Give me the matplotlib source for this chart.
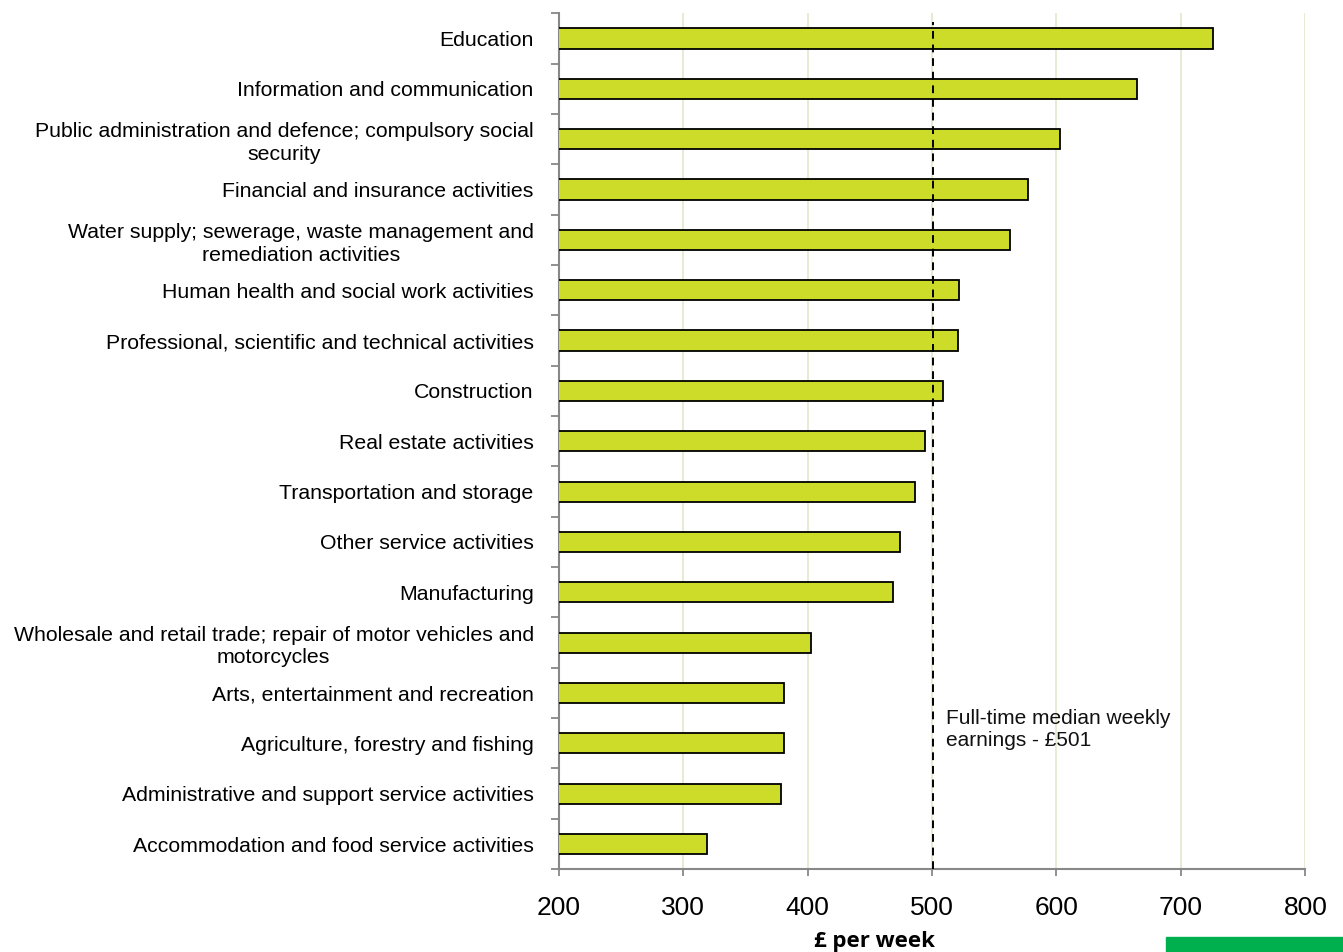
import matplotlib.pyplot as plt
import matplotlib.patches as patches
import numpy as np

plt.rcParams['font.family'] = ['Liberation Sans', 'DejaVu Sans']

# industries, top to bottom as in the chart
industries = [
    'Education',
    'Information and communication',
    'Public administration and defence; compulsory social\nsecurity',
    'Financial and insurance activities',
    'Water supply; sewerage, waste management and\nremediation activities',
    'Human health and social work activities',
    'Professional, scientific and technical activities',
    'Construction',
    'Real estate activities',
    'Transportation and storage',
    'Other service activities',
    'Manufacturing',
    'Wholesale and retail trade; repair of motor vehicles and\nmotorcycles',
    'Arts, entertainment and recreation',
    'Agriculture, forestry and fishing',
    'Administrative and support service activities',
    'Accommodation and food service activities',
]
weekly_pay = [726, 665, 603, 577, 563, 522, 521, 509, 494, 486, 474, 469,
              403, 381, 381, 379, 319]
median_pay = 501
x_ticks = [200, 300, 400, 500, 600, 700, 800]

fig = plt.figure(figsize=(13.43, 9.52), dpi=100)
ax = fig.add_axes([0.416, 0.087, 0.556, 0.899])

y = np.arange(len(industries))
ax.barh(y, weekly_pay, height=0.4, left=0, color='#cddc29',
        edgecolor='black', linewidth=1.3, zorder=3)
ax.set_xlim(x_ticks[0], x_ticks[-1])
ax.set_ylim(len(industries) - 0.5, -0.5)

# grid + median line
ax.set_xticks(x_ticks)
ax.xaxis.grid(True, color='#e2ead0', linewidth=1.3, zorder=0)
ax.axvline(median_pay, color='black', linestyle=(0, (4, 3)), linewidth=1.4,
           ymax=0.99, zorder=4)
ax.text(median_pay + 10, 13.72, 'Full-time median weekly\nearnings - £' + str(median_pay),
        fontsize=15, color='#111111', va='center', ha='left', linespacing=1.2)

# category labels in the middle, ticks at the boundaries
ax.set_yticks(y)
ax.set_yticklabels(industries, fontsize=15.3, ha='right', multialignment='center',
                   linespacing=1.25)
ax.set_yticks(np.arange(-0.5, len(industries)), minor=True)
ax.tick_params(axis='y', which='major', length=0, pad=18)
ax.tick_params(axis='y', which='minor', length=6, color='#888888', width=1.3)
ax.tick_params(axis='x', labelsize=19, length=5, color='#888888', width=1.3, pad=14)

for s in ['top', 'right']:
    ax.spines[s].set_visible(False)
for s in ['left', 'bottom']:
    ax.spines[s].set_color('#888888')
    ax.spines[s].set_linewidth(1.5)

fig.text(0.651, 0.0, '£ per week', fontsize=16, fontweight='bold',
         family=['Open Sans', 'DejaVu Sans'], ha='center', va='bottom')

# green box partly cut off in the lower right corner
fig.patches.append(patches.Rectangle((0.868, -0.01), 0.2, 0.026, color='#00b04f',
                                     transform=fig.transFigure, figure=fig))

fig.savefig('out.png', dpi=100)
